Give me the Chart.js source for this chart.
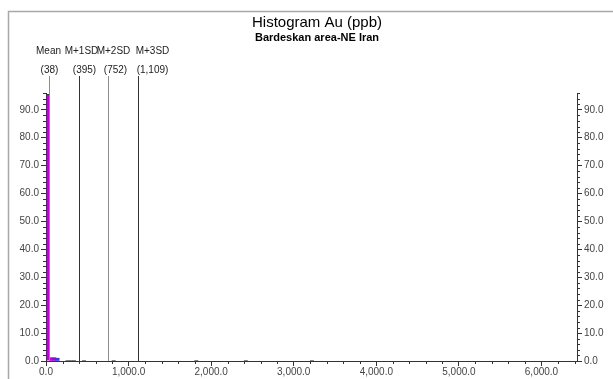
<!DOCTYPE html>
<html>
<head>
<meta charset="utf-8">
<script src="https://cdn.jsdelivr.net/npm/chart.js@4.4.0/dist/chart.umd.min.js"></script>
<style>
  html, body { margin: 0; padding: 0; background: #fff; }
  #wrap { width: 613px; height: 379px; position: relative; }
</style>
</head>
<body>
<div id="wrap"><canvas id="histChart" width="613" height="379"></canvas></div>
<script>
// histogram bins (ppb) and their share of samples (%)
const binStarts = [0, 40, 80, 120, 240, 280, 320, 440, 800, 1800, 2400, 3200];
const binPercent = [95.5, 1.2, 1.2, 1.0, 0.2, 0.2, 0.2, 0.2, 0.2, 0.2, 0.2, 0.2];
const binWidth = 40;

// statistic markers
const statNames = ["Mean", "M+1SD", "M+2SD", "M+3SD"];
const statValues = [38, 395, 752, 1109];
const statLabels = ["(38)", "(395)", "(752)", "(1,109)"];

// axis ticks
const xTicks = [0, 1000, 2000, 3000, 4000, 5000, 6000];
const yTicks = [0, 10, 20, 30, 40, 50, 60, 70, 80, 90];

const titleText = "Histogram Au (ppb)";
const subtitleText = "Bardeskan area-NE Iran";

const xMax = 6430;
const yMax = 96;

const barColors = ["#c400d8", "#c400d8", "#8a10d0", "#3a3ad0"];

document.addEventListener("DOMContentLoaded", function() {
  const ctx = document.getElementById("histChart").getContext("2d");
  const font = "Liberation Sans, Arial, sans-serif";

  function fmt(v) {
    return v.toLocaleString("en-US", { minimumFractionDigits: 1, maximumFractionDigits: 1 });
  }

  // frame, titles, stat lines and minor ticks
  const decorations = {
    id: "decorations",
    beforeDraw(chart) {
      const c = chart.ctx;
      c.save();
      c.strokeStyle = "#a8a8a8";
      c.lineWidth = 1.5;
      c.beginPath();
      c.moveTo(8.5, 379);
      c.lineTo(8.5, 11.5);
      c.lineTo(613, 11.5);
      c.stroke();
      c.restore();
    },
    afterDraw(chart) {
      const c = chart.ctx;
      const area = chart.chartArea;
      const xs = chart.scales.x;
      c.save();
      c.fillStyle = "#000";
      c.textAlign = "center";
      c.textBaseline = "middle";
      c.font = "15px " + font;
      c.fillText(titleText, 317, 23);
      c.font = "bold 11px " + font;
      c.fillText(subtitleText, 317, 38);

      // stat lines, labels nudged apart like the original
      const lineColors = ["#8c8c8c", "#333", "#8c8c8c", "#333"];
      const nameShift = [-1, 2, 5, 14];
      const valueShift = [0, 5, 7, 14];
      c.font = "10px " + font;
      c.fillStyle = "#222";
      statValues.forEach((v, i) => {
        const px = Math.round(xs.getPixelForValue(v)) + 0.5;
        c.strokeStyle = lineColors[i];
        c.lineWidth = 1;
        c.beginPath();
        c.moveTo(px, 76);
        c.lineTo(px, area.bottom);
        c.stroke();
        c.fillText(statNames[i], px + nameShift[i], 51);
        c.fillText(statLabels[i], px + valueShift[i], 70);
      });

      // minor ticks
      c.strokeStyle = "#333";
      c.lineWidth = 1;
      c.beginPath();
      for (let v = 0; v <= xMax; v += 200) {
        if (v % 1000 === 0) continue;
        const px = Math.round(xs.getPixelForValue(v)) + 0.5;
        c.moveTo(px, area.bottom);
        c.lineTo(px, area.bottom + 3);
      }
      const ys = chart.scales.y;
      for (let v = 0; v <= yMax; v += 2) {
        if (v % 10 === 0) continue;
        const py = Math.round(ys.getPixelForValue(v)) + 0.5;
        c.moveTo(area.left, py);
        c.lineTo(area.left - 3, py);
        c.moveTo(area.right, py);
        c.lineTo(area.right + 3, py);
      }
      c.stroke();
      c.restore();
    }
  };

  const axisGrid = {
    drawOnChartArea: false,
    offset: false,
    tickLength: 5,
    color: "#333",
    tickColor: "#333"
  };
  const tickFont = { family: font, size: 10 };

  function yAxis(pos, w) {
    return {
      position: pos,
      min: 0,
      max: yMax,
      grid: axisGrid,
      border: { color: "#333" },
      afterBuildTicks: (s) => { s.ticks = yTicks.map(v => ({ value: v })); },
      ticks: {
        padding: 2,
        color: "#444",
        font: tickFont,
        callback: (v) => fmt(v)
      },
      afterFit: (s) => { s.width = w; }
    };
  }

  new Chart(ctx, {
    type: "bar",
    data: {
      datasets: [{
        data: binStarts.map((s, i) => ({ x: s + binWidth / 2, y: binPercent[i] })),
        backgroundColor: (c) => barColors[c.dataIndex] || "#555",
        borderColor: (c) => c.dataIndex < 4 ? "#3a2a50" : "#555",
        borderWidth: (c) => c.dataIndex === 0 ? { left: 1, right: 0, top: 1, bottom: 0 } : 0,
        barPercentage: 1,
        categoryPercentage: 1
      }]
    },
    options: {
      responsive: false,
      animation: false,
      layout: { padding: { top: 93, left: 0, right: 0, bottom: 0 } },
      plugins: {
        legend: { display: false },
        tooltip: { enabled: false }
      },
      scales: {
        x: {
          type: "linear",
          offset: false,
          min: 0,
          max: xMax,
          grid: axisGrid,
          border: { color: "#333" },
          afterBuildTicks: (s) => { s.ticks = xTicks.map(v => ({ value: v })); },
          ticks: {
            autoSkip: false,
            maxRotation: 0,
            padding: 0,
            color: "#444",
            font: tickFont,
            callback: (v) => fmt(v)
          },
          afterFit: (s) => { s.height = 18; }
        },
        y: yAxis("left", 46),
        y2: yAxis("right", 36)
      }
    },
    plugins: [decorations]
  });
});
</script>
</body>
</html>
